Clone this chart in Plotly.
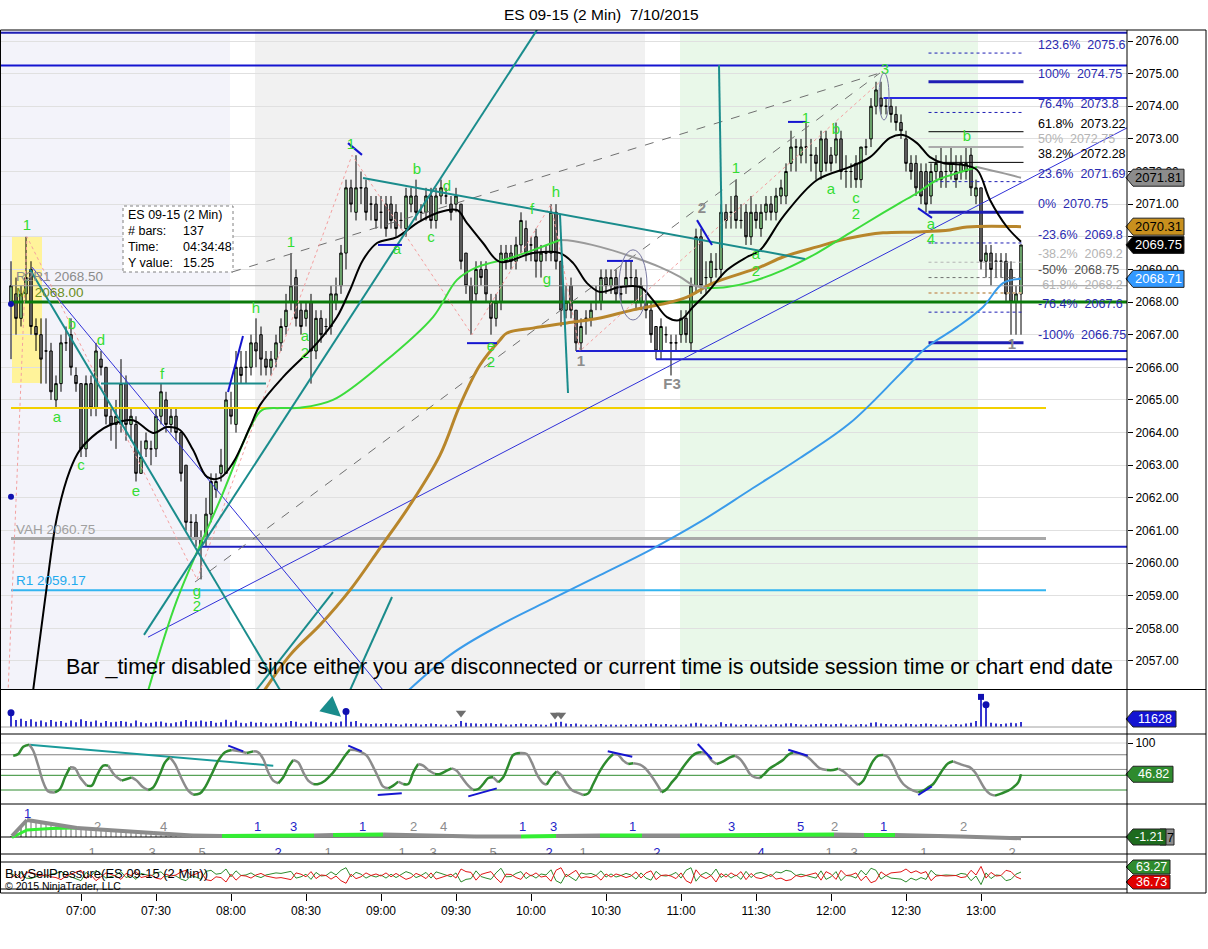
import plotly.graph_objects as go

FONT = "Liberation Sans, Arial, sans-serif"
W, H = 1208, 949


def T(s):
    h, m = s.split(":")
    return int(h) * 60 + float(m)


# ============================ DATA ============================
chart_title = "ES 09-15 (2 Min)\u00a0\u00a07/10/2015"
first_bar_time = "06:32"
bar_minutes = 2
time_ticks = ["07:00", "07:30", "08:00", "08:30", "09:00", "09:30", "10:00",
              "10:30", "11:00", "11:30", "12:00", "12:30", "13:00"]
price_ticks = list(range(2057, 2077))
hidden_price_ticks = [2070]   # fully covered by value flags in the reference

opens = [
    2068.0, 2068.25, 2067.5, 2068.25, 2069.0, 2067.25, 2067.0, 2066.5, 2066.5, 2065.0,
    2065.5, 2066.75, 2067.0, 2065.75, 2065.5, 2063.5, 2065.5, 2064.75, 2066.25, 2066.0,
    2064.5, 2064.25, 2064.25, 2065.5, 2064.25, 2064.25, 2062.75, 2063.5, 2063.5, 2063.5,
    2064.5, 2065.0, 2064.25, 2064.5, 2064.0, 2063.0, 2061.25, 2061.25, 2060.75, 2060.75,
    2061.5, 2062.25, 2062.75, 2062.75, 2064.75, 2064.25, 2066.0, 2066.0, 2066.0, 2066.75,
    2067.0, 2066.25, 2066.0, 2066.25, 2066.75, 2067.25, 2068.0, 2068.75, 2067.75, 2067.5,
    2068.0, 2066.5, 2067.5, 2067.25, 2067.25, 2068.0, 2068.5, 2069.5, 2071.5, 2070.75,
    2071.5, 2071.5, 2071.0, 2071.0, 2070.75, 2071.0, 2071.0, 2070.75, 2070.5, 2070.25,
    2071.0, 2071.25, 2070.75, 2070.75, 2071.25, 2070.5, 2071.25, 2071.25, 2071.0, 2071.0,
    2071.0, 2069.5, 2068.5, 2068.25, 2069.0, 2069.0, 2068.0, 2067.5, 2068.0, 2069.5,
    2069.5, 2069.25, 2069.75, 2070.25, 2069.75, 2070.0, 2069.25, 2069.5, 2069.5, 2070.75,
    2069.25, 2067.75, 2068.5, 2067.75, 2066.75, 2067.5, 2067.5, 2068.0, 2068.0, 2068.75,
    2068.5, 2068.75, 2068.25, 2068.5, 2068.75, 2068.75, 2068.0, 2068.0, 2067.75, 2067.25,
    2066.5, 2067.0, 2066.75, 2066.75, 2067.0, 2067.5, 2066.75, 2068.5, 2070.0, 2068.75,
    2068.75, 2069.0, 2069.0, 2070.75, 2070.75, 2071.25, 2070.5, 2070.75, 2070.0, 2070.75,
    2070.25, 2070.75, 2071.0, 2070.75, 2071.25, 2071.25, 2072.25, 2072.75, 2072.5, 2072.75,
    2072.5, 2072.5, 2072.0, 2073.0, 2072.5, 2072.5, 2073.0, 2072.0, 2072.0, 2072.25,
    2071.75, 2072.75, 2073.0, 2074.0, 2074.25, 2074.0, 2074.0, 2073.75, 2073.5, 2073.0,
    2072.25, 2072.25, 2072.0, 2072.0, 2071.25, 2072.0, 2072.0, 2072.0, 2072.0, 2072.0,
    2072.0, 2072.0, 2072.5, 2071.25, 2071.5, 2069.25, 2069.5, 2069.25, 2069.25, 2069.25,
    2069.0, 2068.0, 2068.25]
highs = [
    2069.25, 2068.75, 2068.5, 2070.0, 2069.25, 2067.5, 2067.5, 2067.5, 2066.75, 2065.75,
    2067.0, 2067.25, 2067.5, 2066.0, 2065.5, 2065.75, 2065.75, 2066.75, 2066.5, 2066.0,
    2064.75, 2065.0, 2066.25, 2065.75, 2064.75, 2064.5, 2063.75, 2064.0, 2063.75, 2064.75,
    2065.5, 2065.25, 2064.75, 2064.75, 2064.0, 2063.0, 2061.5, 2061.5, 2061.0, 2062.0,
    2062.75, 2062.75, 2063.5, 2065.25, 2065.25, 2066.5, 2066.5, 2066.5, 2067.0, 2067.5,
    2067.25, 2066.5, 2066.5, 2067.0, 2067.5, 2068.25, 2069.5, 2069.0, 2068.0, 2068.0,
    2068.25, 2067.75, 2067.75, 2067.5, 2068.5, 2068.75, 2069.75, 2071.75, 2071.75, 2072.5,
    2072.0, 2071.75, 2071.25, 2071.25, 2071.25, 2071.25, 2071.25, 2071.0, 2070.75, 2071.5,
    2071.5, 2071.75, 2071.0, 2071.5, 2071.5, 2071.5, 2071.75, 2071.5, 2071.25, 2071.5,
    2071.0, 2069.5, 2068.75, 2069.25, 2069.25, 2069.25, 2068.25, 2068.25, 2069.75, 2069.75,
    2069.75, 2070.0, 2070.75, 2070.5, 2070.0, 2070.25, 2069.75, 2069.75, 2071.0, 2071.0,
    2069.25, 2068.5, 2068.75, 2067.75, 2067.5, 2067.75, 2068.0, 2068.5, 2069.0, 2069.0,
    2069.0, 2069.0, 2068.5, 2069.25, 2069.25, 2069.0, 2068.75, 2068.25, 2068.0, 2067.25,
    2067.5, 2067.25, 2067.0, 2067.0, 2067.75, 2067.75, 2068.75, 2070.25, 2070.25, 2069.25,
    2069.5, 2069.5, 2071.0, 2071.0, 2071.25, 2071.75, 2071.0, 2071.0, 2071.25, 2071.0,
    2071.0, 2071.25, 2071.25, 2071.5, 2071.75, 2072.25, 2073.25, 2073.0, 2073.0, 2073.5,
    2073.0, 2072.75, 2073.25, 2073.25, 2072.75, 2073.5, 2073.25, 2072.5, 2072.25, 2072.5,
    2072.75, 2073.0, 2074.25, 2074.75, 2074.75, 2074.25, 2074.25, 2074.0, 2073.75, 2073.25,
    2072.5, 2072.5, 2072.25, 2072.25, 2072.25, 2072.5, 2072.75, 2072.5, 2072.75, 2072.5,
    2072.5, 2072.75, 2072.75, 2071.75, 2071.5, 2069.75, 2069.75, 2069.5, 2069.5, 2069.5,
    2069.25, 2068.5, 2069.75]
lows = [
    2066.25, 2067.0, 2067.25, 2068.0, 2067.0, 2066.5, 2065.5, 2065.5, 2065.0, 2064.75,
    2065.25, 2066.5, 2065.75, 2065.25, 2063.25, 2063.25, 2064.5, 2064.5, 2065.75, 2064.25,
    2063.75, 2063.5, 2064.0, 2063.75, 2063.75, 2062.5, 2062.75, 2063.25, 2063.0, 2063.25,
    2064.25, 2064.0, 2064.0, 2063.75, 2062.5, 2061.0, 2060.75, 2060.5, 2059.5, 2060.5,
    2061.25, 2062.0, 2062.5, 2062.75, 2064.25, 2064.0, 2065.5, 2065.5, 2065.75, 2066.0,
    2065.75, 2065.75, 2065.75, 2066.0, 2066.5, 2067.0, 2067.75, 2067.25, 2067.0, 2067.25,
    2065.5, 2066.25, 2066.75, 2067.0, 2067.0, 2067.75, 2068.25, 2069.0, 2070.75, 2070.5,
    2071.0, 2070.5, 2070.5, 2070.25, 2070.25, 2070.0, 2070.25, 2070.0, 2070.25, 2070.0,
    2070.75, 2070.5, 2070.5, 2070.5, 2070.25, 2070.25, 2071.0, 2071.0, 2070.5, 2070.75,
    2069.0, 2068.25, 2067.0, 2068.0, 2068.5, 2068.0, 2067.0, 2067.25, 2067.75, 2069.0,
    2069.0, 2069.0, 2069.5, 2069.25, 2069.25, 2068.75, 2068.75, 2069.25, 2069.25, 2069.0,
    2067.25, 2067.5, 2067.5, 2066.5, 2066.5, 2067.0, 2067.25, 2067.75, 2067.75, 2068.25,
    2068.25, 2068.0, 2068.0, 2068.25, 2068.5, 2067.75, 2067.75, 2067.5, 2066.75, 2066.25,
    2066.25, 2066.75, 2065.75, 2066.5, 2066.75, 2066.75, 2066.5, 2068.25, 2068.25, 2068.25,
    2068.5, 2068.75, 2068.75, 2070.25, 2070.25, 2070.25, 2070.25, 2069.75, 2069.75, 2070.25,
    2070.0, 2070.5, 2070.5, 2070.5, 2071.0, 2071.0, 2072.0, 2072.0, 2072.25, 2072.25,
    2072.0, 2071.75, 2071.75, 2072.0, 2072.0, 2072.25, 2071.75, 2071.5, 2071.5, 2071.5,
    2071.5, 2072.5, 2072.75, 2073.75, 2073.75, 2073.75, 2073.5, 2073.25, 2073.0, 2072.0,
    2071.75, 2071.25, 2071.0, 2070.75, 2071.0, 2071.75, 2071.5, 2071.5, 2071.75, 2071.5,
    2071.75, 2071.75, 2071.25, 2071.0, 2069.0, 2068.75, 2068.5, 2068.75, 2068.75, 2068.0,
    2067.0, 2067.0, 2067.0]
closes = [
    2068.5, 2067.5, 2068.25, 2068.75, 2067.25, 2067.0, 2066.25, 2066.5, 2065.25, 2065.5,
    2066.75, 2066.75, 2066.0, 2065.5, 2063.5, 2065.5, 2064.75, 2066.5, 2066.0, 2064.5,
    2064.25, 2064.5, 2065.5, 2064.25, 2064.5, 2062.75, 2063.25, 2063.75, 2063.5, 2064.5,
    2065.25, 2064.25, 2064.5, 2064.0, 2062.75, 2061.25, 2061.25, 2060.75, 2060.5, 2061.5,
    2062.5, 2062.5, 2063.0, 2065.0, 2064.5, 2066.0, 2065.75, 2066.0, 2066.75, 2066.5,
    2066.25, 2066.0, 2066.25, 2066.75, 2067.25, 2067.75, 2068.5, 2067.5, 2067.25, 2067.75,
    2066.5, 2067.5, 2067.0, 2067.25, 2068.25, 2068.25, 2069.5, 2071.5, 2071.0, 2071.5,
    2071.5, 2070.75, 2071.0, 2070.5, 2070.75, 2070.25, 2070.5, 2070.25, 2070.5, 2071.25,
    2071.25, 2070.75, 2070.75, 2071.25, 2070.5, 2071.25, 2071.5, 2071.25, 2070.75, 2071.25,
    2069.25, 2068.5, 2068.0, 2069.0, 2068.75, 2068.25, 2067.5, 2068.0, 2069.5, 2069.25,
    2069.25, 2069.75, 2070.5, 2069.5, 2069.75, 2069.25, 2069.5, 2069.5, 2070.75, 2069.25,
    2067.75, 2068.0, 2067.75, 2066.75, 2067.25, 2067.5, 2067.75, 2068.0, 2068.75, 2068.5,
    2068.75, 2068.25, 2068.25, 2068.75, 2068.75, 2068.0, 2068.5, 2067.75, 2067.0, 2066.5,
    2067.25, 2067.0, 2066.75, 2066.75, 2067.5, 2067.0, 2068.5, 2070.0, 2068.5, 2068.75,
    2069.25, 2069.0, 2070.75, 2070.5, 2070.75, 2070.5, 2070.5, 2070.0, 2070.75, 2070.5,
    2070.75, 2071.0, 2070.75, 2071.25, 2071.5, 2072.0, 2072.75, 2072.75, 2072.75, 2072.75,
    2072.5, 2072.25, 2073.0, 2072.25, 2072.25, 2073.0, 2072.0, 2072.0, 2072.0, 2071.75,
    2072.75, 2072.75, 2074.0, 2074.5, 2074.0, 2074.0, 2073.75, 2073.5, 2073.25, 2072.25,
    2072.0, 2071.5, 2071.25, 2071.0, 2072.0, 2072.25, 2071.75, 2072.0, 2072.25, 2071.75,
    2072.25, 2072.25, 2071.5, 2071.5, 2069.25, 2069.5, 2069.0, 2069.25, 2069.25, 2068.25,
    2068.0, 2068.25, 2069.75]
volumes = [
    33000, 16000, 19000, 14000, 18000, 12000, 15000, 11000, 16000, 12000,
    14000, 10000, 15000, 11000, 18000, 14000, 12000, 15000, 10000, 14000,
    11000, 12000, 14000, 12000, 9000, 15000, 11000, 9000, 10000, 12000,
    13000, 10000, 9000, 11000, 13000, 16000, 12000, 13000, 15000, 12000,
    14000, 10000, 11000, 17000, 11000, 15000, 10000, 9000, 12000, 10000,
    11000, 9000, 8000, 10000, 9000, 11000, 14000, 12000, 9000, 8000,
    13000, 11000, 9000, 8000, 12000, 10000, 13000, 36000, 12000, 14000,
    9000, 8000, 7000, 8000, 7000, 9000, 8000, 7000, 6000, 8000,
    7000, 8000, 6000, 7000, 8000, 7000, 6000, 6000, 5000, 7000,
    14000, 10000, 9000, 8000, 7000, 8000, 9000, 7000, 8000, 6000,
    6000, 7000, 8000, 7000, 6000, 7000, 6000, 5000, 8000, 11000,
    12000, 8000, 7000, 8000, 6000, 6000, 5000, 6000, 7000, 5000,
    6000, 5000, 6000, 5000, 7000, 6000, 6000, 7000, 8000, 7000,
    6000, 7000, 5000, 6000, 5000, 6000, 8000, 10000, 8000, 6000,
    5000, 6000, 11000, 7000, 8000, 6000, 5000, 7000, 6000, 5000,
    6000, 5000, 6000, 7000, 6000, 8000, 9000, 7000, 6000, 5000,
    6000, 7000, 8000, 7000, 6000, 7000, 8000, 6000, 5000, 6000,
    7000, 6000, 10000, 11000, 8000, 7000, 6000, 7000, 6000, 8000,
    7000, 6000, 7000, 8000, 7000, 6000, 6000, 5000, 6000, 7000,
    6000, 8000, 10000, 14000, 70000, 52000, 10000, 8000, 7000, 8000,
    10000, 9000, 11628]
buy_pressure = [
    60, 45, 62, 40, 38, 44, 52, 47, 55, 58, 66, 52, 44, 38, 30, 62, 48, 70, 55, 40,
    46, 52, 65, 42, 50, 35, 58, 54, 48, 60, 64, 45, 52, 48, 36, 30, 50, 44, 35, 66,
    70, 55, 58, 75, 45, 68, 50, 52, 60, 48, 42, 52, 55, 60, 58, 62, 66, 40, 45, 55,
    35, 62, 48, 50, 64, 52, 70, 80, 45, 62, 55, 40, 50, 44, 52, 40, 55, 42, 52, 65,
    58, 42, 50, 62, 40, 64, 58, 52, 45, 60, 25, 35, 38, 68, 46, 40, 35, 60, 78, 45,
    46, 58, 65, 38, 52, 40, 56, 52, 72, 30, 20, 55, 42, 30, 60, 55, 58, 50, 68, 44,
    56, 44, 50, 58, 52, 36, 60, 40, 32, 66, 50, 48, 52, 62, 40, 70, 80, 28, 52, 62,
    50, 75, 42, 56, 40, 52, 35, 66, 42, 58, 62, 55, 46, 64, 60, 70, 66, 50, 55, 50,
    45, 40, 68, 35, 45, 65, 30, 50, 48, 40, 70, 52, 78, 70, 36, 50, 40, 38, 36, 25,
    40, 32, 42, 35, 70, 52, 50, 52, 50, 50, 58, 55, 30, 48, 15, 60, 38, 52, 50, 30,
    35, 55, 63.27]

# moving averages (time in minutes after midnight, price)
ma_fast_t = [400.0, 405.6, 410.4, 415.6, 419.6, 426.4, 431.6, 440.8, 448.8, 454.4, 459.6, 464.8,
             470.4, 475.6, 480.8, 487.6, 491.6, 500.8, 514.4, 522.4, 527.6, 532.8, 538.4, 546.4,
             554.4, 562.4, 570.4, 574.4, 580.8, 587.6, 600.8, 611.6, 616.8, 622.4, 627.6, 635.6,
             643.6, 648.8, 654.4, 659.6, 664.8, 670.4, 678.4, 686.4, 691.6, 700.8, 714.4, 727.6,
             735.6, 743.6, 748.8, 754.4, 759.6, 764.8, 772.8, 778.4, 783.6, 790.4, 796.0]
ma_fast_p = [2055.6, 2058.87, 2061.41, 2062.85, 2063.47, 2063.99, 2064.23, 2064.38, 2063.99, 2064.17,
             2064.08, 2063.47, 2062.64, 2062.61, 2063.07, 2064.17, 2064.84, 2065.70, 2066.74, 2067.54,
             2068.37, 2069.29, 2069.81, 2069.99, 2070.42, 2070.73, 2070.82, 2070.42, 2069.81, 2069.23,
             2069.50, 2069.50, 2069.20, 2068.58, 2068.31, 2068.46, 2068.46, 2068.06, 2067.54, 2067.45,
             2067.85, 2068.28, 2068.98, 2069.38, 2069.59, 2070.61, 2071.74, 2072.14, 2072.44, 2073.03,
             2073.12, 2072.87, 2072.44, 2072.26, 2072.20, 2072.05, 2071.13, 2070.30, 2069.85]
ma_mid_t = [445.0, 458.4, 475.6, 487.6, 492.4, 499.6, 507.6, 520.8, 540.8, 560.8, 570.4, 578.4,
            591.6, 600.8, 611.6, 616.8, 627.6, 640.8, 651.6, 659.6, 664.8, 670.4, 678.4, 687.6,
            700.8, 714.4, 727.6, 740.8, 747.6, 754.4, 762.4, 770.4, 778.4, 788.8, 796.0]
ma_mid_p = [2055.6, 2058.87, 2061.93, 2064.14, 2064.69, 2064.75, 2064.76, 2065.0, 2066.13, 2067.54,
            2068.68, 2069.07, 2069.35, 2069.59, 2069.90, 2069.87, 2069.69, 2069.38, 2069.07, 2068.77,
            2068.52, 2068.43, 2068.46, 2068.61, 2068.98, 2069.50, 2070.12, 2070.73, 2071.04, 2071.34,
            2071.74, 2071.95, 2072.14, 2071.95, 2071.81]
ma_slow_t = [489.0, 503.6, 515.6, 527.6, 539.6, 551.6, 563.6, 571.6, 579.6, 587.6, 590.4, 600.8,
             614.4, 627.6, 640.8, 654.4, 662.4, 672.8, 691.6, 700.8, 714.4, 727.6, 740.8, 754.4,
             767.6, 774.4, 796.0]
ma_slow_p = [2055.6, 2057.18, 2058.10, 2059.17, 2060.46, 2061.78, 2063.31, 2064.84, 2066.07, 2066.84,
             2067.05, 2067.20, 2067.36, 2067.51, 2067.76, 2067.97, 2068.15, 2068.58, 2069.07, 2069.38,
             2069.69, 2069.96, 2070.12, 2070.15, 2070.21, 2070.30, 2070.31]
ma_long_t = [544.0, 567.6, 587.6, 607.6, 627.6, 647.6, 667.6, 687.6, 707.6, 727.6, 747.6, 758.4,
             770.4, 780.8, 788.8, 796.0]
ma_long_p = [2055.6, 2057.18, 2058.10, 2058.87, 2059.63, 2060.40, 2061.26, 2062.24, 2063.22, 2064.29,
             2065.79, 2066.62, 2067.23, 2067.85, 2068.58, 2068.71]

# horizontal levels: price, start, end
level_price = [2076.25, 2075.25, 2074.25, 2068.50, 2068.00, 2064.75, 2065.50, 2060.75, 2060.50,
               2059.17, 2066.50, 2066.25]
level_start = ["06:27", "06:27", "12:21", "06:32", "06:32", "06:32", "07:08", "06:32", "07:48",
               "06:32", "10:18", "10:50"]
level_end = ["14:00", "14:00", "14:00", "14:00", "14:00", "13:26", "08:14", "13:26", "14:00",
             "13:26", "14:00", "14:00"]
level_names = ["R2R1 2068.50", "M\u00a0\u00a02068.00", "VAH 2060.75", "R1 2059.17"]
level_name_price = [2068.50, 2068.00, 2060.75, 2059.17]

# fibonacci projection
fib_pct = ["123.6%", "100%", "76.4%", "61.8%", "50%", "38.2%", "23.6%", "0%", "-23.6%",
           "-38.2%", "-50%", "-61.8%", "-76.4%", "-100%"]
fib_price = [2075.63, 2074.75, 2073.81, 2073.22, 2072.75, 2072.28, 2071.69, 2070.75, 2069.81,
             2069.22, 2068.75, 2068.28, 2067.69, 2066.75]
fib_price_text = ["2075.6", "2074.75", "2073.8", "2073.22", "2072.75", "2072.28", "2071.69",
                  "2070.75", "2069.8", "2069.2", "2068.75", "2068.2", "2067.6", "2066.75"]
fib_span = ["12:39", "13:17"]

# drawn trend lines (t0, p0, t1, p1)
teal_lines = [(399.6, 2069.0, 502.0, 2055.8), (445.2, 2057.80, 602.4, 2076.34),
              (532.8, 2071.80, 709.6, 2069.32), (611.6, 2070.67, 614.8, 2065.21),
              (675.2, 2075.26, 676.4, 2069.66), (489.0, 2056.0, 520.8, 2059.11),
              (527.0, 2056.0, 544.4, 2058.96)]
thin_blue_lines = [(400.4, 2069.07, 542.0, 2056.0), (446.8, 2057.73, 840.0, 2073.40)]
dashed_lines = [(480.4, 2068.92, 739.6, 2075.02), (465.6, 2059.42, 739.6, 2075.02)]
blue_marks = [(478.8, 2065.24, 484.8, 2066.96), (526.8, 2072.87, 532.4, 2072.51),
              (538.8, 2069.75, 548.4, 2069.75), (574.4, 2066.74, 586.4, 2066.74),
              (630.4, 2069.26, 640.8, 2069.26), (666.4, 2070.51, 672.4, 2069.75),
              (702.8, 2073.52, 710.4, 2073.52), (754.8, 2070.88, 760.4, 2070.58)]
zigzag_t = [390.8, 398.4, 466.4, 528.4, 576.4, 608.0, 619.6, 739.6]
zigzag_p = [2056.0, 2070.0, 2059.5, 2072.5, 2067.0, 2071.0, 2066.5, 2074.75]

# wave labels
wave_text = ["1", "a", "b", "c", "d", "e", "f", "g", "2", "h", "1", "a", "2", "1", "b", "d", "a",
             "c", "e", "2", "f", "h", "g", "1", "F3", "2", "1", "a", "2", "1", "b", "a", "c", "2",
             "3", "b", "a", "4", "1"]
wave_time = [398.4, 410.4, 416.4, 420, 428, 442, 452.4, 466.4, 466.4, 490, 504, 509.6, 509.6,
             528, 554.4, 566.4, 546.4, 560, 584, 584, 600.4, 610, 606.4, 620, 656.4, 668.4, 682,
             690, 690, 710, 722, 720, 730, 730, 741.6, 774.4, 760, 760, 792.4]
wave_price = [2070.33, 2064.45, 2067.30, 2062.98, 2066.81, 2062.18, 2065.76, 2059.11, 2058.65,
              2067.79, 2069.81, 2066.93, 2066.41, 2072.81, 2072.05, 2071.53, 2069.59, 2069.96,
              2066.62, 2066.13, 2070.82, 2071.34, 2068.68, 2066.16, 2065.46, 2070.85, 2072.08,
              2069.44, 2068.92, 2073.61, 2073.27, 2071.43, 2071.16, 2070.67, 2075.11, 2073.06,
              2070.36, 2069.90, 2066.68]
wave_is_gray = [23, 24, 25, 38]

# oscillator panel (time, value)
osc_t = [392.9, 394.9, 396.9, 399.3, 400.9, 402.9, 404.9, 406.9, 409.6, 411.6, 413.6, 415.6, 417.6,
         419.6, 422.3, 424.3, 426.3, 428.9, 430.9, 433.6, 436.3, 438.3, 440.3, 442.3, 444.9, 446.9,
         448.9, 451.6, 453.6, 455.6, 457.6, 460.3, 462.9, 464.9, 467.6, 469.6, 472.3, 474.9, 477.6,
         480.3, 483.6, 486.3, 488.9, 490.9, 492.9, 494.9, 496.9, 498.9, 500.9, 502.9, 504.9, 506.9,
         508.9, 510.9, 512.9, 514.9, 517.6, 520.3, 522.9, 525.6, 527.6, 529.6, 532.3, 534.3, 536.3,
         538.9, 540.9, 542.9, 544.9, 546.9, 548.9, 550.9, 552.9, 554.9, 556.9, 558.9, 561.6, 563.6,
         566.3, 568.3, 570.3, 572.3, 574.9, 576.9, 578.9, 580.9, 582.9, 584.9, 586.9, 588.9, 590.9,
         592.9, 595.6, 598.3, 600.3, 602.3, 604.9, 606.3, 608.3, 610.3, 612.3, 614.3, 616.3, 618.3,
         620.9, 622.9, 624.9, 626.9, 628.9, 630.9, 632.9, 634.9, 636.9, 638.9, 640.9, 643.6, 645.6,
         647.6, 650.3, 652.3, 654.3, 656.3, 658.3, 660.3, 662.3, 664.3, 666.3, 668.3, 670.3, 672.3,
         674.3, 676.9, 679.6, 681.6, 683.6, 685.6, 687.6, 689.6, 691.6, 693.6, 695.6, 698.3, 700.9,
         702.9, 704.9, 706.9, 709.6, 711.6, 713.6, 715.6, 718.3, 720.9, 722.9, 724.9, 726.9, 728.9,
         730.9, 732.9, 734.9, 736.9, 738.9, 740.9, 742.9, 744.9, 746.9, 748.9, 750.9, 752.9, 754.9,
         756.9, 758.9, 760.9, 762.9, 764.9, 766.9, 768.9, 770.9, 773.6, 775.6, 777.6, 779.6, 781.6,
         783.6, 785.6, 788.3, 790.9, 792.9, 794.9, 796.0]
osc_v = [78.4, 81.3, 93.8, 97.2, 86.9, 61.4, 33.0, 17.7, 16.0, 21.7, 41.6, 58.6, 56.9, 41.6, 27.4,
         27.4, 44.4, 61.4, 61.4, 44.4, 35.9, 38.7, 41.6, 35.9, 24.5, 20.0, 24.5, 47.2, 67.1, 75.6,
         64.2, 38.7, 18.9, 12.1, 14.3, 24.5, 47.2, 69.9, 84.1, 88.1, 85.8, 83.0, 85.8, 84.1, 72.8,
         50.1, 35.9, 31.4, 41.6, 58.6, 71.1, 67.1, 50.1, 35.9, 30.2, 30.2, 35.9, 47.2, 61.4, 78.4,
         88.6, 88.1, 84.1, 78.4, 64.2, 41.6, 25.7, 22.8, 27.4, 34.2, 30.2, 30.2, 50.1, 64.2, 61.4,
         54.0, 47.2, 47.2, 52.9, 56.9, 52.9, 41.6, 27.4, 20.0, 21.7, 30.2, 40.4, 41.6, 33.0, 41.6,
         61.4, 79.6, 83.0, 81.3, 67.1, 47.2, 31.4, 29.1, 42.7, 51.8, 44.4, 30.2, 20.0, 16.0, 11.5,
         14.3, 30.2, 47.2, 61.4, 72.8, 81.3, 79.6, 69.9, 64.2, 65.4, 63.1, 57.4, 47.2, 30.2, 16.0,
         21.7, 33.0, 42.7, 55.7, 67.1, 77.3, 83.0, 84.1, 81.3, 69.9, 64.2, 68.8, 75.6, 78.4, 72.8,
         61.4, 47.2, 41.6, 40.4, 48.4, 56.9, 64.2, 71.6, 80.1, 84.1, 82.4, 78.4, 72.8, 64.2, 56.9,
         54.0, 54.0, 56.3, 51.8, 44.4, 35.9, 28.5, 35.9, 52.9, 69.9, 78.4, 79.6, 75.6, 61.4, 42.7,
         30.2, 23.4, 18.9, 16.0, 18.9, 24.5, 30.2, 42.7, 55.7, 65.4, 68.8, 65.4, 61.4, 58.6, 50.1,
         35.9, 21.7, 13.2, 10.4, 14.3, 18.9, 24.5, 33.0, 46.82]
osc_levels = [100, 80, 55, 45, 20]
osc_teal = [(399.3, 97.2, 496.9, 61.4)]
osc_blue_marks = [(478.9, 95.5, 484.9, 85.8), (526.9, 95.5, 532.3, 85.8), (538.7, 11.5, 548.3, 14.3),
                  (574.9, 9.2, 586.3, 22.8), (630.7, 85.8, 640.5, 76.7), (666.7, 98.3, 672.3, 72.8),
                  (702.9, 88.6, 710.7, 78.4), (754.9, 11.5, 760.3, 26.2)]

# wave-count oscillator panel
p3_hist = [1, 6, 12, 17, 16, 15, 14, 13, 12.5, 11.5, 11, 10, 9.5, 9, 8.5, 8, 7.5, 7, 6.5, 6,
           6, 5.5, 5, 5, 4.5, 4.5, 4, 4, 4, 3.5, 3, 3, 2.5, 2, 2, 1.5, 1.5, 1, 1, 0.5]
p3_line_t = [392.4, 398.4, 418.4, 448.8, 464.4, 476.4, 513.2, 520.8, 540.8, 577.6, 596.0, 610.0,
             627.6, 644.4, 659.6, 721.2, 733.2, 745.6, 771.6, 796.0]
p3_line_v = [1, 17, 9, 4, 1.5, 1, 1.5, 2, 2.5, 0.5, 0.5, 1, 1.5, 1.5, 1.5, 2.5, 2, 2, 0.5, -1.21]
p3_line_up = [0, 0, 0, 0, 0, 1, 0, 1, 0, 0, 1, 0, 1, 0, 1, 0, 1, 0, 0]
p3_signal_t = [392.4, 398.4, 408.0, 418.4]
p3_signal_v = [-0.5, 7, 8.5, 9]
p3_top_text = ["1", "2", "4", "1", "3", "1", "2", "4", "1", "3", "1", "3", "5", "2", "1", "2"]
p3_top_time = [398.6, 426.7, 452.8, 490.4, 504.8, 532.4, 552.8, 564.8, 596.4, 608.8, 640.6, 680,
               707.6, 721.4, 741, 772.8]
p3_top_blue = [1, 0, 0, 1, 1, 1, 0, 0, 1, 1, 1, 1, 1, 0, 1, 0]
p3_bot_text = ["1", "3", "5", "2", "1", "1", "3", "5", "2", "1", "2", "4", "1", "3", "1", "2"]
p3_bot_time = [424.4, 448.4, 468.4, 498.8, 518.8, 548.4, 560.8, 584.8, 607.2, 620.8, 650.3, 692,
               719.2, 729.2, 757.1, 792.4]
p3_bot_blue = [0, 0, 0, 1, 0, 0, 0, 0, 1, 0, 1, 1, 0, 0, 0, 0]

bar_timer_msg = ("Bar _timer disabled since either you are disconnected or current time is "
                 "outside session time or chart end date")

# ============================ GEOMETRY ============================
PLOT_R = 1127
MAIN = (30, 689)
VOL = (690, 734)
OSC = (734, 804)
P3 = (804, 854)
BSP = (862, 889)
X_RANGE = [387.6, 838.4]
MAIN_RANGE = [2056.141, 2076.337]
VOL_RANGE = [-16275, 86025]
OSC_RANGE = [-3.83, 115.32]
P3_RANGE = [-17, 33]
BSP_RANGE = [-2, 102]


def PX(x):
    return x / W


def PY(y):
    return 1 - y / H


def dom(p):
    return [1 - p[1] / H, 1 - p[0] / H]


def val_px(v, rng, panel):
    return panel[0] + (rng[1] - v) / (rng[1] - rng[0]) * (panel[1] - panel[0])


bar_t = [T(first_bar_time) + bar_minutes * i for i in range(len(closes))]

fig = go.Figure()
shapes = []
annotations = []

GREEN_TXT = "#33DD33"
GRAY_TXT = "#8C8C8C"
NAVY = "#1E1EB4"


def seg(t0, p0, t1, p1, color, width=1, dash="solid", yaxis="y", shape="linear"):
    fig.add_trace(go.Scatter(x=[t0, t1], y=[p0, p1], mode="lines", yaxis=yaxis,
                             line=dict(color=color, width=width, dash=dash, shape=shape),
                             hoverinfo="skip"))


def slope_runs(vs):
    runs, cur, start = [], None, 0
    for i in range(len(vs) - 1):
        up = vs[i + 1] >= vs[i]
        if cur is None:
            cur, start = up, i
        elif up != cur:
            runs.append((cur, start, i))
            cur, start = up, i
    runs.append((cur, start, len(vs) - 1))
    return runs


# ---------- main panel backgrounds ----------
for t0, t1, col in [(X_RANGE[0], 479.6, "#F3F3FA"), (489.6, 645.6, "#F1F1F1"), (659.6, 778.8, "#E9F8E9")]:
    shapes.append(dict(type="rect", xref="x", yref="y", x0=t0, x1=t1, y0=MAIN_RANGE[0], y1=MAIN_RANGE[1],
                       fillcolor=col, line=dict(width=0), layer="below"))
shapes.append(dict(type="rect", xref="x", yref="y", x0=392.4, x1=404.4, y0=2065.52, y1=2070.0,
                   fillcolor="#FFF39A", line=dict(width=0), layer="below"))

# ---------- candles ----------
fig.add_trace(go.Candlestick(
    x=bar_t, open=opens, high=highs, low=lows, close=closes, xaxis="x", yaxis="y",
    increasing=dict(line=dict(color="black", width=1), fillcolor="#8FDC8F"),
    decreasing=dict(line=dict(color="black", width=1), fillcolor="#7A7A7A"),
    whiskerwidth=0, hoverinfo="skip"))

# ---------- horizontal levels ----------
level_style = [(NAVY, 2, "solid"), ("#1414D0", 2, "solid"), ("#2A2AE0", 2, "solid"),
               ("#9A9A9A", 1, "solid"), ("#0A7A0A", 3, "solid"), ("#F2D000", 2, "solid"),
               ("#1A8C8C", 2, "solid"), ("#A8A8A8", 3, "solid"), ("#2020C0", 2, "solid"),
               ("#33B5F0", 2, "solid"), ("#2020D0", 2, "solid"), ("#2020D0", 2, "solid")]
for p, s, e, (c, w, d) in zip(level_price, level_start, level_end, level_style):
    seg(T(s), p, T(e), p, c, w, d)

name_colors = ["#8C8C8C", "#6B8E23", "#A0A0A0", "#22AAEE"]
for txt, p, c in zip(level_names, level_name_price, name_colors):
    annotations.append(dict(xref="paper", yref="y", x=PX(14), y=p, text=txt, showarrow=False,
                            xanchor="left", yanchor="bottom", font=dict(size=13.5, color=c, family=FONT)))

# ---------- fib ----------
fib_style = [(NAVY, 1, "dot"), (NAVY, 3, "solid"), (NAVY, 1, "dot"), ("black", 1, "solid"),
             ("#ABABAB", 2, "solid"), ("black", 1, "solid"), (NAVY, 1, "dot"), (NAVY, 3, "solid"),
             (NAVY, 1, "dot"), ("#B4B4B4", 1, "dot"), ("#707070", 1, "dot"), ("#D2B48C", 2, "dot"),
             (NAVY, 1, "dot"), (NAVY, 3, "solid")]
fib_txt_col = ["#2B2BB0", "#2B2BB0", "#2B2BB0", "black", "#B4B4B4", "black", "#2B2BB0", "#2B2BB0",
               "#2B2BB0", "#B4B4B4", "#505050", "#B4B4B4", "#2B2BB0", "#2B2BB0"]
for pct, p, ptxt, (c, w, d), tc in zip(fib_pct, fib_price, fib_price_text, fib_style, fib_txt_col):
    seg(T(fib_span[0]), p, T(fib_span[1]), p, c, w, d)
    annotations.append(dict(xref="paper", yref="y", x=PX(1036), y=p, text=f"{pct}\u00a0\u00a0{ptxt}",
                            showarrow=False, xanchor="left", yanchor="bottom", yshift=-1,
                            font=dict(size=12.5, color=tc, family=FONT)))

# ---------- trend / drawing lines ----------
for t0, p0, t1, p1 in thin_blue_lines:
    seg(t0, p0, t1, p1, "#3030D8", 1)
for t0, p0, t1, p1 in dashed_lines:
    seg(t0, p0, t1, p1, "#707070", 1, "dash")
fig.add_trace(go.Scatter(x=zigzag_t, y=zigzag_p, mode="lines", yaxis="y",
                         line=dict(color="#F4A0A0", width=1, dash="dot"), hoverinfo="skip"))

# ---------- moving averages ----------
fig.add_trace(go.Scatter(x=ma_long_t, y=ma_long_p, mode="lines", line=dict(color="#3A9BEA", width=2, shape="spline"), hoverinfo="skip"))
fig.add_trace(go.Scatter(x=ma_slow_t, y=ma_slow_p, mode="lines", line=dict(color="#B8862B", width=3, shape="spline"), hoverinfo="skip"))
for up, s, e in slope_runs(ma_mid_p):
    fig.add_trace(go.Scatter(x=ma_mid_t[s:e + 1], y=ma_mid_p[s:e + 1], mode="lines",
                             line=dict(color="#3CDC3C" if up else "#9A9A9A", width=2, shape="spline"),
                             hoverinfo="skip"))
fig.add_trace(go.Scatter(x=ma_fast_t, y=ma_fast_p, mode="lines", line=dict(color="black", width=2, shape="spline"), hoverinfo="skip"))

for t0, p0, t1, p1 in teal_lines:
    seg(t0, p0, t1, p1, "#1A8C8C", 2)
for t0, p0, t1, p1 in blue_marks:
    seg(t0, p0, t1, p1, "#1515D0", 2)

fig.add_trace(go.Scatter(x=[bar_t[0], bar_t[0]], y=[2067.94, 2062.03], mode="markers",
                         marker=dict(color="#1010B0", size=6), hoverinfo="skip"))

# ellipses
shapes.append(dict(type="circle", xref="x", yref="y", x0=635.2, x1=646.4, y0=2067.45, y1=2069.6,
                   line=dict(color="#7878A0", width=1)))
shapes.append(dict(type="circle", xref="x", yref="y", x0=739.2, x1=743.2, y0=2073.58, y1=2075.02,
                   line=dict(color="#7878A0", width=1)))

# wave labels
wt_g = [i for i in range(len(wave_text)) if i not in wave_is_gray]
fig.add_trace(go.Scatter(x=[wave_time[i] for i in wt_g], y=[wave_price[i] for i in wt_g],
                         text=[wave_text[i] for i in wt_g], mode="text", yaxis="y",
                         textfont=dict(size=15, color=GREEN_TXT, family=FONT), hoverinfo="skip"))
fig.add_trace(go.Scatter(x=[wave_time[i] for i in wave_is_gray], y=[wave_price[i] for i in wave_is_gray],
                         text=["<b>%s</b>" % wave_text[i] for i in wave_is_gray], mode="text", yaxis="y",
                         textfont=dict(size=15, color=GRAY_TXT, family=FONT), hoverinfo="skip"))

# tooltip box
shapes.append(dict(type="rect", xref="paper", yref="paper", x0=PX(123), x1=PX(233), y0=PY(272), y1=PY(206),
                   fillcolor="white", line=dict(color="#808080", width=1, dash="dot")))
tip_rows = [("ES 09-15 (2 Min)", ""), ("# bars:", "137"), ("Time:", "04:34:48"), ("Y value:", "15.25")]
for i, (a, b) in enumerate(tip_rows):
    yy = 215 + 16 * i
    annotations.append(dict(xref="paper", yref="paper", x=PX(126), y=PY(yy), text=a, showarrow=False,
                            xanchor="left", yanchor="middle", font=dict(size=12.5, color="black", family=FONT)))
    if b:
        annotations.append(dict(xref="paper", yref="paper", x=PX(181), y=PY(yy), text=b, showarrow=False,
                                xanchor="left", yanchor="middle", font=dict(size=12.5, color="black", family=FONT)))

annotations.append(dict(xref="paper", yref="paper", x=PX(589), y=PY(667), text=bar_timer_msg, showarrow=False,
                        xanchor="center", yanchor="middle", font=dict(size=21.5, color="black", family=FONT)))
annotations.append(dict(xref="paper", yref="paper", x=PX(601), y=PY(14), text=chart_title, showarrow=False,
                        xanchor="center", yanchor="middle", font=dict(size=15.5, color="black", family=FONT)))

# ---------- volume panel ----------
fig.add_trace(go.Bar(x=bar_t, y=volumes, yaxis="y2", width=0.7, marker=dict(color="#1818C8", line=dict(width=0)),
                     hoverinfo="skip"))
seg(X_RANGE[0], 0, X_RANGE[1], 0, "#A0A0A0", 1, yaxis="y2")
fig.add_trace(go.Scatter(x=[bar_t[0], bar_t[67], bar_t[195]], y=[volumes[0], volumes[67], volumes[195]],
                         mode="markers", yaxis="y2", marker=dict(color="#1010B0", size=7), hoverinfo="skip"))
fig.add_trace(go.Scatter(x=[bar_t[194]], y=[volumes[194]], mode="markers", yaxis="y2",
                         marker=dict(color="#1010B0", size=6, symbol="square"), hoverinfo="skip"))
fig.add_trace(go.Scatter(x=[572.0, 609.6, 612.0], y=[32500, 27900, 27900], mode="markers", yaxis="y2",
                         marker=dict(color="#6E6E6E", size=9, symbol="triangle-down"), hoverinfo="skip"))
annotations.append(dict(xref="x", yref="y2", x=524.0, y=24000, ax=-15, ay=-13, text="", showarrow=True,
                        arrowhead=2, arrowsize=1, arrowwidth=4, arrowcolor="#1A8C8C"))

# ---------- oscillator panel ----------
osc_level_col = ["#D8D8D8", "#808080", "#909090", "#2E8B2E", "#2E8B2E"]
for lv, c in zip(osc_levels, osc_level_col):
    seg(X_RANGE[0], lv, X_RANGE[1], lv, c, 1, yaxis="y3")
for t0, v0, t1, v1 in osc_teal:
    seg(t0, v0, t1, v1, "#1A9A9A", 2, yaxis="y3")
for up, s, e in slope_runs(osc_v):
    fig.add_trace(go.Scatter(x=osc_t[s:e + 1], y=osc_v[s:e + 1], mode="lines", yaxis="y3",
                             line=dict(color="#2E8B2E" if up else "#8C8C8C", width=2.5, shape="spline"),
                             hoverinfo="skip"))
for t0, v0, t1, v1 in osc_blue_marks:
    seg(t0, v0, t1, v1, "#1515D0", 2, yaxis="y3")

# ---------- wave-count panel ----------
hist_cols = ["#2E6B2E" if i < 4 else "#7F7F7F" for i in range(len(p3_hist))]
fig.add_trace(go.Bar(x=bar_t[:len(p3_hist)], y=p3_hist, yaxis="y4", width=0.45,
                     marker=dict(color=hist_cols, line=dict(width=0)), hoverinfo="skip"))
seg(X_RANGE[0], 0, X_RANGE[1], 0, "black", 1, yaxis="y4")
fig.add_trace(go.Scatter(x=p3_signal_t, y=p3_signal_v, mode="lines", yaxis="y4",
                         line=dict(color="#33EE33", width=3), hoverinfo="skip"))
for i in range(len(p3_line_t) - 1):
    seg(p3_line_t[i], p3_line_v[i], p3_line_t[i + 1], p3_line_v[i + 1],
        "#33EE33" if p3_line_up[i] else "#8C8C8C", 4, yaxis="y4")
for txt, t, b in zip(p3_top_text, p3_top_time, p3_top_blue):
    yy = 813 if t < 400 else 826
    annotations.append(dict(xref="x", yref="paper", x=t, y=PY(yy), text=txt, showarrow=False,
                            xanchor="center", yanchor="middle",
                            font=dict(size=13, color="#2323C8" if b else GRAY_TXT, family=FONT)))
fig.add_trace(go.Scatter(x=p3_bot_time, y=[-16.3] * len(p3_bot_time), text=p3_bot_text, mode="text",
                         yaxis="y4", cliponaxis=True,
                         textfont=dict(size=13, color=["#2323C8" if b else GRAY_TXT for b in p3_bot_blue],
                                       family=FONT), hoverinfo="skip"))

# ---------- buy / sell pressure ----------
sell_pressure = [100 - v for v in buy_pressure]
fig.add_trace(go.Scatter(x=bar_t, y=buy_pressure, mode="lines", yaxis="y5",
                         line=dict(color="#2E8B2E", width=1), hoverinfo="skip"))
fig.add_trace(go.Scatter(x=bar_t, y=sell_pressure, mode="lines", yaxis="y5",
                         line=dict(color="#E01818", width=1), hoverinfo="skip"))
annotations.append(dict(xref="paper", yref="paper", x=PX(3), y=PY(873), text="BuySellPressure(ES 09-15 (2 Min))",
                        showarrow=False, xanchor="left", yanchor="middle",
                        font=dict(size=13, color="black", family=FONT)))
annotations.append(dict(xref="paper", yref="paper", x=PX(3), y=PY(885.5), text="\u00a9 2015 NinjaTrader, LLC",
                        showarrow=False, xanchor="left", yanchor="middle",
                        font=dict(size=10.5, color="black", family=FONT)))


# ---------- value flags ----------
def flag(ypx, text, bg, fg, x1=1184, h=17, fs=13, x0=1126, tip=7):
    path = "M {},{} L {},{} L {},{} L {},{} L {},{} Z".format(
        PX(x0), PY(ypx), PX(x0 + tip), PY(ypx - h / 2), PX(x1), PY(ypx - h / 2),
        PX(x1), PY(ypx + h / 2), PX(x0 + tip), PY(ypx + h / 2))
    shapes.append(dict(type="path", xref="paper", yref="paper", path=path, fillcolor=bg,
                       line=dict(color="#222222", width=1), layer="above"))
    annotations.append(dict(xref="paper", yref="paper", x=PX((x0 + tip + x1) / 2), y=PY(ypx), text=text,
                            showarrow=False, xanchor="center", yanchor="middle",
                            font=dict(size=fs, color=fg, family=FONT)))


last_mid = ma_mid_p[-1]
last_slow = ma_slow_p[-1]
last_close = closes[-1]
last_long = ma_long_p[-1]
flag(val_px(last_mid, MAIN_RANGE, MAIN), f"{last_mid:.2f}", "#8C8C8C", "black")
flag(val_px(last_slow, MAIN_RANGE, MAIN), f"{last_slow:.2f}", "#C8901E", "black")
flag(val_px(last_close, MAIN_RANGE, MAIN), f"{last_close:.2f}", "black", "white")
flag(val_px(last_long, MAIN_RANGE, MAIN), f"{last_long:.2f}", "#3399FF", "white")
flag(719, f"{volumes[-1]}", "#1414D2", "white", x1=1176, h=16, fs=12.5)
flag(val_px(osc_v[-1], OSC_RANGE, OSC), f"{osc_v[-1]:.2f}", "#2E8B2E", "white", x1=1173, h=16, fs=12.5)
shapes.append(dict(type="rect", xref="paper", yref="paper", x0=PX(1160), x1=PX(1174), y0=PY(845), y1=PY(829),
                   fillcolor="#8C8C8C", line=dict(color="#222222", width=1)))
annotations.append(dict(xref="paper", yref="paper", x=PX(1170), y=PY(837.5), text="7", showarrow=False,
                        xanchor="center", yanchor="middle",
                        font=dict(size=12.5, color="black", family=FONT)))
flag(837, f"{p3_line_v[-1]:.2f}", "#1E6B1E", "white", x1=1166, h=16, fs=12.5)
flag(867, f"{buy_pressure[-1]:.2f}", "#2E8B2E", "white", x1=1170, h=14, fs=12.5)
flag(882, f"{sell_pressure[-1]:.2f}", "#E00000", "white", x1=1170, h=14, fs=12.5)

# ---------- frame ----------
LINE = dict(color="black", width=1)
shapes.append(dict(type="rect", xref="paper", yref="paper", x0=PX(0.5), x1=PX(1206), y0=PY(893), y1=PY(30),
                   line=LINE, fillcolor="rgba(0,0,0,0)"))
shapes.append(dict(type="line", xref="paper", yref="paper", x0=PX(PLOT_R), x1=PX(PLOT_R), y0=PY(893), y1=PY(30),
                   line=LINE))
for yy in [689.5, 734, 804, 854]:
    shapes.append(dict(type="line", xref="paper", yref="paper", x0=0, x1=PX(1206), y0=PY(yy), y1=PY(yy),
                       line=LINE))
for yy in [862, 889]:
    shapes.append(dict(type="line", xref="paper", yref="paper", x0=0, x1=PX(PLOT_R), y0=PY(yy), y1=PY(yy),
                       line=LINE))

TICKF = dict(size=12, color="black", family=FONT)
noaxis = dict(anchor="x", showticklabels=False, showgrid=False, zeroline=False, showline=False, fixedrange=True)
fig.update_layout(
    width=W, height=H, margin=dict(l=0, r=0, t=0, b=0, autoexpand=False),
    paper_bgcolor="white", plot_bgcolor="rgba(0,0,0,0)", showlegend=False, barmode="overlay",
    xaxis=dict(domain=[0, PX(PLOT_R)], range=X_RANGE, anchor="free", position=PY(893),
               tickvals=[T(s) for s in time_ticks],
               ticktext=time_ticks, ticks="outside", ticklen=7, tickcolor="black", tickfont=TICKF,
               showgrid=False, zeroline=False, showline=False, rangeslider=dict(visible=False)),
    yaxis=dict(domain=dom(MAIN), range=MAIN_RANGE, anchor="x", side="right", tickvals=price_ticks,
               ticktext=["" if p in hidden_price_ticks else f"{p:.2f}" for p in price_ticks],
               ticks="outside", ticklen=5, tickcolor="black",
               tickfont=TICKF, showgrid=True, gridcolor="#E0E0E0", gridwidth=1, zeroline=False, showline=False),
    yaxis2=dict(domain=dom(VOL), range=VOL_RANGE, **noaxis),
    yaxis3=dict(domain=dom(OSC), range=OSC_RANGE, anchor="x", side="right", tickvals=[100], ticktext=["100"],
                ticks="outside", ticklen=5, tickcolor="black", tickfont=TICKF, showgrid=False,
                zeroline=False, showline=False),
    yaxis4=dict(domain=dom(P3), range=P3_RANGE, **noaxis),
    yaxis5=dict(domain=dom(BSP), range=BSP_RANGE, **noaxis),
    shapes=shapes, annotations=annotations,
    font=dict(family=FONT),
)

fig.write_html("out.html", config={"displayModeBar": False, "staticPlot": True},
               post_script="document.body.style.margin='0px';document.body.style.padding='0px';")
